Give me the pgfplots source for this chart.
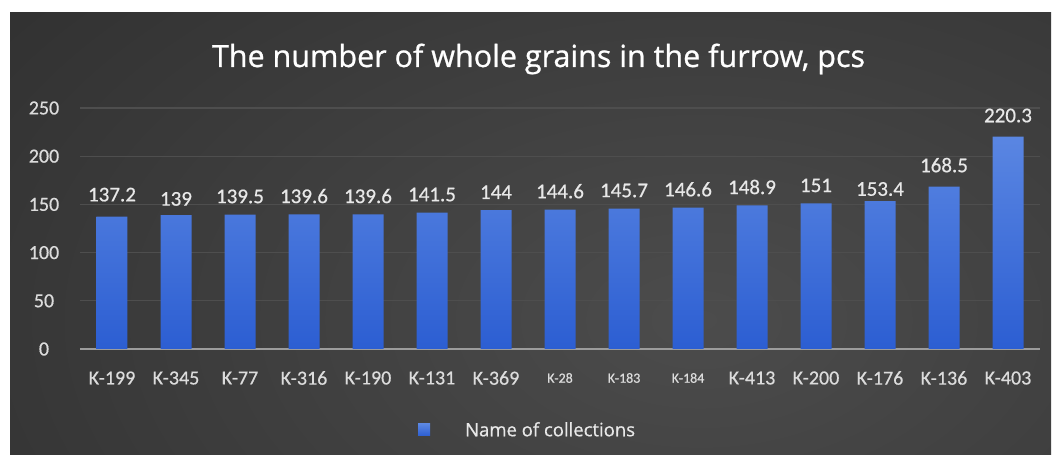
\documentclass[border=0pt]{standalone}
\usepackage{pgfplots}
\usepackage{pgfplotstable}
\pgfplotsset{compat=1.18}
\usepackage{fontspec}
\setmainfont{Carlito}[FakeBold=0.5]
\newfontfamily\titlefont{Open Sans}[FakeBold=0.8]
\newfontfamily\legfont{Open Sans}[FakeBold=0.6]
\definecolor{bgin}{HTML}{4C4C4C}
\definecolor{bgout}{HTML}{1E1E1E}
\definecolor{bartop}{HTML}{5A86E2}
\definecolor{barbot}{HTML}{2C5ED2}
\definecolor{gridc}{HTML}{4E4E4E}
\definecolor{labc}{HTML}{E8E8E8}
\definecolor{tickc}{HTML}{DCDCDC}
\definecolor{axc}{HTML}{9C9C9C}
\newcommand\sm{\fontsize{14}{14}\selectfont}

\pgfplotstableread{
x y
0 137.2
1 139
2 139.5
3 139.6
4 139.6
5 141.5
6 144
7 144.6
8 145.7
9 146.6
10 148.9
11 151
12 153.4
13 168.5
14 220.3
}\grains

\begin{document}
\begin{tikzpicture}[x=1pt,y=1pt]
\useasboundingbox (0,0) rectangle (1053,455);
\fill[white] (0,0) rectangle (1053,455);
\begin{scope}
\clip (10,0) rectangle (1051,442);
\shade[inner color=bgin, outer color=bgout] (-800,-765) rectangle (2200,1035);
\end{scope}
\node[anchor=base, text=white, font=\titlefont\fontsize{30.5}{30.5}\selectfont] at (538.5,388) {The number of whole grains in the furrow, pcs};
\begin{axis}[
  at={(80pt,106pt)}, anchor=south west,
  scale only axis, width=960pt, height=241pt,
  xmin=-0.5, xmax=14.5, ymin=0, ymax=250,
  clip=false,
  ytick={0,50,...,250},
  ymajorgrids,
  major grid style={gridc, line width=1.2pt},
  axis line style={draw=none},
  tick style={draw=none},
  xtick={0,...,14},
  xticklabels={K-199, K-345, K-77, K-316, K-190, K-131, K-369, {\sm K-28}, {\sm K-183}, {\sm K-184}, K-413, K-200, K-176, K-136, K-403},
  extra y ticks={0},
  extra y tick labels={},
  extra y tick style={grid=major, major grid style={axc, line width=2.5pt}},
  ticklabel style={text=tickc, font=\fontsize{20}{20}\selectfont},
  yticklabel style={anchor=center, xshift=-36pt},
  xticklabel style={anchor=center, yshift=-29pt},
  /pgf/number format/assume math mode=true,
  legend style={at={(0.352,-0.336)}, anchor=west, draw=none, fill=none, text=labc,
    font=\legfont\fontsize{18.5}{18.5}\selectfont, inner sep=0pt,
    /tikz/every odd column/.append style={column sep=33pt}},
  legend image code/.code={\fill[fill=bartop] (0pt,-6pt) rectangle (12pt,6pt);},
  nodes near coords,
  every node near coord/.append style={text=labc, font=\fontsize{21}{21}\selectfont, inner sep=0pt, anchor=south, yshift=11pt},
  coordinate style/.condition={x==0}{yshift=4pt},
  coordinate style/.condition={x==1}{yshift=-2pt},
  coordinate style/.condition={x==12}{yshift=-6pt},
  coordinate style/.condition={x>12.5}{font=\fontsize{18}{18}\selectfont, yshift=3pt},
]
\addplot[ybar, bar width=31pt, draw=none, top color=bartop, bottom color=barbot] table[x=x, y=y] {\grains};
\addlegendentry{Name of collections}
\end{axis}
\end{tikzpicture}
\end{document}
